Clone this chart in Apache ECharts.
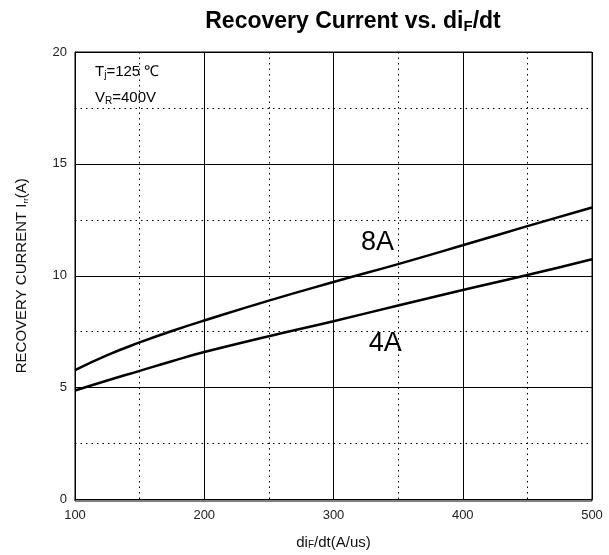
<!DOCTYPE html>
<html>
<head>
<meta charset="utf-8">
<script src="https://cdn.jsdelivr.net/npm/echarts@6/dist/echarts.min.js"></script>
<style>html,body{margin:0;padding:0;background:#fff;}#c{width:609px;height:555px;}</style>
</head>
<body>
<div id="c"></div>
<script>
const xValues = [100, 125, 150, 175, 200, 250, 300, 350, 400, 450, 500];
const current8A = [5.78, 6.45, 7.02, 7.53, 8.0, 8.89, 9.72, 10.52, 11.36, 12.22, 13.05];
const current4A = [4.87, 5.32, 5.75, 6.18, 6.59, 7.3, 7.97, 8.67, 9.36, 10.03, 10.74];
const xTicks = [100, 200, 300, 400, 500];
const yTicks = [0, 5, 10, 15, 20];
const curveLabels = [
  { name: '8A', coord: [334, 11.5] },
  { name: '4A', coord: [340, 6.97] }
];

const FONT = 'Liberation Sans, Arial, sans-serif';
const chart = echarts.init(document.getElementById('c'));
const toPairs = (ys) => xValues.map((x, i) => [x, ys[i]]);

chart.setOption({
  backgroundColor: '#fff',
  animation: false,
  title: {
    text: '{b|Recovery Current vs. di}{s|F}{b|/dt}',
    left: 348, top: 3, textAlign: 'center',
    textStyle: {
      rich: {
        b: { fontFamily: FONT, fontWeight: 'bold', fontSize: 23, color: '#000', lineHeight: 28 },
        s: { fontFamily: FONT, fontWeight: 'bold', fontSize: 15, color: '#000', lineHeight: 28, padding: [10, 0, 0, 0] }
      }
    }
  },
  grid: { left: 75, right: 17, top: 52, bottom: 54, containLabel: false },
  xAxis: {
    type: 'value', min: 100, max: 500, interval: 100,
    name: '{n|di}{s|F}{n|/dt(A/us)}', nameLocation: 'middle', nameGap: 34,
    nameTextStyle: {
      rich: {
        n: { fontFamily: FONT, fontSize: 15, color: '#111', lineHeight: 18 },
        s: { fontFamily: FONT, fontSize: 10, color: '#111', lineHeight: 18, padding: [5, 0, 0, 0] }
      }
    },
    axisLine: { lineStyle: { color: '#000', width: 1 } },
    axisTick: { show: false },
    axisLabel: { fontFamily: FONT, fontSize: 13, color: '#222', margin: 9,
      formatter: (v) => xTicks.includes(v) ? String(v) : '' },
    splitLine: { show: true, lineStyle: { color: '#000', width: 1 } },
    minorTick: { show: false, splitNumber: 2 },
    minorSplitLine: { show: true, lineStyle: { color: '#000', width: 1, type: [1.5, 4] } }
  },
  yAxis: {
    type: 'value', min: 0, max: 20, interval: 5,
    name: '{n|RECOVERY CURRENT I}{s|rr}{n|(A)}', nameLocation: 'middle', nameGap: 44, nameRotate: 90,
    nameTextStyle: {
      rich: {
        n: { fontFamily: FONT, fontSize: 15, color: '#111', lineHeight: 18 },
        s: { fontFamily: FONT, fontSize: 8, color: '#111', lineHeight: 18, padding: [7, 0, 0, 0] }
      }
    },
    axisLine: { show: true, lineStyle: { color: '#000', width: 1 } },
    axisTick: { show: false },
    axisLabel: { fontFamily: FONT, fontSize: 13, color: '#222', margin: 8,
      formatter: (v) => yTicks.includes(v) ? String(v) : '' },
    splitLine: { show: true, lineStyle: { color: '#000', width: 1 } },
    minorTick: { show: false, splitNumber: 2 },
    minorSplitLine: { show: true, lineStyle: { color: '#000', width: 1, type: [1.5, 4] } }
  },
  graphic: [
    { type: 'rect', shape: { x: 75, y: 52, width: 517, height: 449 }, style: { fill: 'none', stroke: '#000', lineWidth: 1 }, z: 10, silent: true },
    { type: 'text', left: 95, top: 64, z: 20, style: {
        text: '{n|T}{s|j}{n|=125 ℃}',
        rich: {
          n: { fontFamily: FONT, fontSize: 15, fill: '#000', lineHeight: 19 },
          s: { fontFamily: FONT, fontSize: 10, fill: '#000', lineHeight: 19, padding: [6, 0, 0, 0] }
        }
      } },
    { type: 'text', left: 95, top: 90, z: 20, style: {
        text: '{n|V}{s|R}{n|=400V}',
        rich: {
          n: { fontFamily: FONT, fontSize: 15, fill: '#000', lineHeight: 19 },
          s: { fontFamily: FONT, fontSize: 10, fill: '#000', lineHeight: 19, padding: [6, 0, 0, 0] }
        }
      } }
  ],
  series: [
    {
      name: '8A', type: 'line', data: toPairs(current8A), smooth: true, symbol: 'none',
      lineStyle: { color: '#000', width: 2.5 }, z: 5,
      markPoint: {
        symbol: 'circle', symbolSize: 0,
        label: { show: true, position: 'inside', formatter: '{b}', fontFamily: FONT, fontSize: 27, color: '#000' },
        data: [curveLabels[0]]
      }
    },
    {
      name: '4A', type: 'line', data: toPairs(current4A), smooth: true, symbol: 'none',
      lineStyle: { color: '#000', width: 2.5 }, z: 5,
      markPoint: {
        symbol: 'circle', symbolSize: 0,
        label: { show: true, position: 'inside', formatter: '{b}', fontFamily: FONT, fontSize: 27, color: '#000' },
        data: [curveLabels[1]]
      }
    }
  ]
});
</script>
</body>
</html>
